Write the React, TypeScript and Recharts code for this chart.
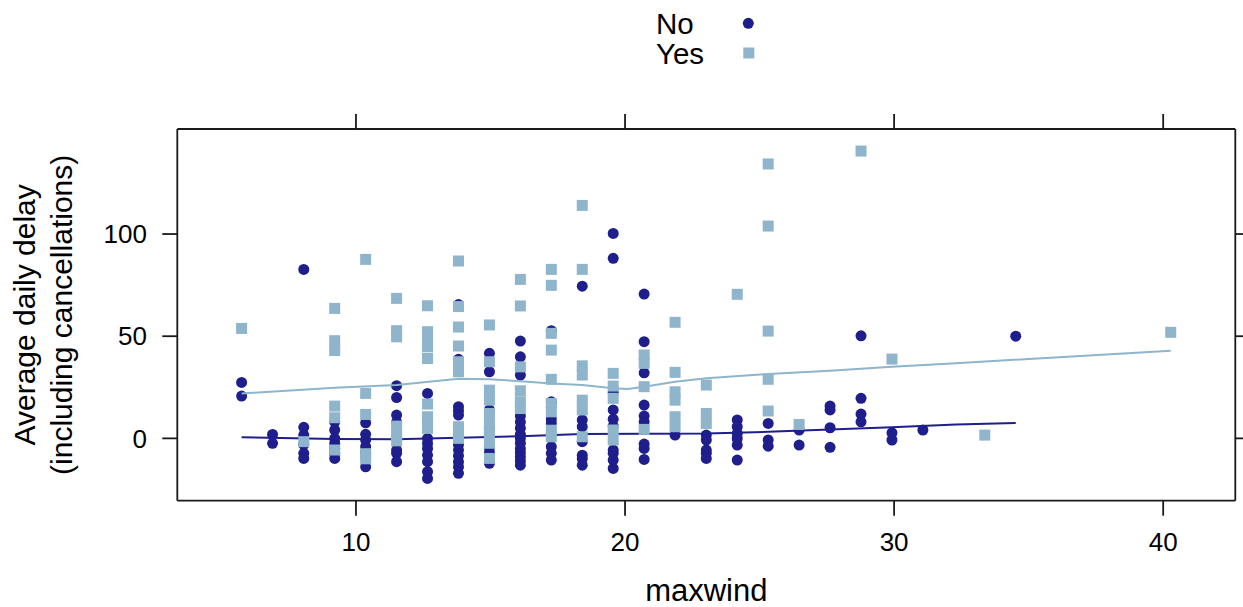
import * as React from 'react';
import { ComposedChart, Scatter, XAxis, YAxis, Label, Legend } from 'recharts';

// wind speed levels (mph) at which days were observed
const windLevels = [
  5.75, 6.9, 8.06, 9.21, 10.36, 11.51, 12.66, 13.81, 14.96, 16.11, 17.26, 18.41, 19.56,
  20.71, 21.86, 23.02, 24.17, 25.32, 26.47, 27.62, 28.77, 29.92, 31.07, 33.37, 34.52, 40.28,
];

// average daily delay, one row per wind level, for days without / with rain
const noDelays: number[][] = [
  [27.4, 20.7],
  [1.9, -2.4],
  [82.7, 5.4, 1.6, -3, -7.3, -9.8],
  [8.1, 4.1, 0, -2.5, -4.9, -7.5, -9.8],
  [7.6, 2, -0.8, -4.1, -7, -13.9],
  [25.8, 20, 11.4, 8, -5.7, -7.3, -11.4],
  [22, 9, 0, -2.5, -4.9, -8.2, -11.4, -16.3, -19.6],
  [65.5, 38.7, 15.5, 13.5, 11.4, -3, -5.7, -8.5, -11.5, -14, -17.1],
  [41.6, 32.6, 13.9, 5, -4.5, -7, -12.2],
  [47.6, 39.9, 31, 11, 8, 5, 2, 0, -2.4, -5, -7, -9, -11, -13.1],
  [52.7, 17.9, 9.5, 7.5, -4.1, -7.3, -10.6],
  [74.5, 9, 5.7, -1.6, -8.2, -10, -13.1],
  [100.3, 88.1, 22.5, 13.9, 9.4, 6, -5.7, -7.3, -10.6, -14.7],
  [70.6, 47.3, 32.1, 16.3, 10.9, 8.1, -2.8, -4.9, -10.3],
  [1.6],
  [1.6, -0.8, -5.7, -7.3, -9.8],
  [9, 5.7, 2.4, 0, -3.3, -10.6],
  [7.3, -0.8, -3.8],
  [4.1, -3.3],
  [15.8, 13.9, 5.2, -4.4],
  [50.2, 19.6, 11.9, 8.1],
  [2.7, -0.8],
  [4.1],
  [],
  [50],
  [],
];

const yesDelays: number[][] = [
  [53.8],
  [],
  [-1.6],
  [63.6, 47.8, 43, 15.8, 10.1, -5.7],
  [87.6, 22, 11.7, -7.5, -10],
  [68.5, 52.7, 49.7, 6, 1.6, -1.2],
  [64.9, 52.2, 48.5, 44.8, 39.1, 16.8, 10.6, 7.5, 4.9],
  [86.8, 64.5, 54.5, 45.2, 37.5, 32.6, 5.7, 3, 0],
  [55.5, 37.5, 23.6, 18.7, 12.2, 7.3, 2.4, -2.4, -9.8],
  [77.8, 64.8, 35, 23.3, 17.9, 14.6],
  [82.7, 74.9, 51.4, 43.2, 28.9, 17.1, 13, 4, 0.8],
  [114, 82.7, 35.5, 31, 18.7, 13.9, 0.8],
  [31.8, 25.6, 19.6, 4.1, -0.8],
  [40.8, 36.7, 25.3, 4.4],
  [56.8, 32.3, 22.8, 18.7, 10.6, 5.7],
  [26.1, 12.2, 7.3],
  [70.5],
  [134.3, 103.9, 52.5, 28.9, 13.4],
  [6.8],
  [],
  [140.6],
  [38.8],
  [],
  [1.6],
  [],
  [51.9],
];

// loess smooth for each group
const noSmoothX = [5.75, 9.21, 11.51, 13.81, 16.11, 18.41, 20.71, 23.02, 25.32, 27.62, 29.92, 32.3, 34.52];
const noSmoothY = [0.5, -0.3, -0.4, 0.3, 1.1, 2.1, 2.3, 2.4, 3.2, 4.4, 5.4, 6.8, 7.5];
const yesSmoothX = [5.75, 9.21, 11.51, 13.81, 14.96, 16.11, 17.26, 18.41, 19.56, 20.1, 20.71, 21.86, 23.02, 25.32, 27.62, 29.92, 32.3, 40.28];
const yesSmoothY = [22, 24.8, 26.1, 29.2, 28.9, 28, 26.9, 26.1, 24.5, 24.2, 25.3, 27.7, 29.4, 31.5, 33.1, 35, 36.8, 42.9];

const groups = ['No', 'Yes'];
const xTicks = [10, 20, 30, 40];
const yTicks = [0, 50, 100];

const NAVY = '#1E1E8C';
const LIGHT = '#8FB5CC';
const FONT = '"Liberation Sans", Arial, Helvetica, sans-serif';
const AXIS = '#1a1a1a';

const toPoints = (rows: number[][]) =>
  windLevels.flatMap((w, i) => rows[i].map((d) => ({ x: w, y: d })));
const toLine = (xs: number[], ys: number[]) => xs.map((x, i) => ({ x, y: ys[i] }));

const noPoints = toPoints(noDelays);
const yesPoints = toPoints(yesDelays);
const noSmooth = toLine(noSmoothX, noSmoothY);
const yesSmooth = toLine(yesSmoothX, yesSmoothY);

const Dot = (props: any) => <circle cx={props.cx} cy={props.cy} r={5.5} fill={NAVY} />;
const Square = (props: any) => (
  <rect x={props.cx - 5.5} y={props.cy - 5.5} width={11} height={11} fill={LIGHT} />
);
const NoShape = () => <g />;

const renderLegend = () => (
  <svg width={140} height={75} style={{ display: 'block' }}>
    <text x={16} y={33.6} fontSize={29.5} fontFamily={FONT} fill="#000">{groups[0]}</text>
    <circle cx={108.3} cy={23.3} r={5.5} fill={NAVY} />
    <text x={16} y={64} fontSize={29.5} fontFamily={FONT} fill="#000">{groups[1]}</text>
    <rect x={103.3} y={47.5} width={11} height={11} fill={LIGHT} />
  </svg>
);

const xDomain: [number, number] = [3.36, 42.68];
const yDomain: [number, number] = [-30.5, 151.4];
const tickStyle = { fontSize: 26, fontFamily: FONT, fill: '#000' };
const blank = () => '';

export default function App() {
  return (
    <div style={{ position: 'absolute', left: 0, top: 0 }}>
      <ComposedChart width={1243} height={607} margin={{ top: 0, right: 0, bottom: 0, left: 0 }}>
        <XAxis
          dataKey="x"
          type="number"
          domain={xDomain}
          ticks={xTicks}
          interval={0}
          allowDataOverflow
          height={106.3}
          tickSize={15}
          tickMargin={16.5}
          stroke={AXIS}
          strokeWidth={1.8}
          tick={tickStyle}
        >
          <Label
            value="maxwind"
            position="insideBottom"
            offset={6}
            style={{ fontSize: 31, fontFamily: FONT, fill: '#000' }}
          />
        </XAxis>
        <XAxis
          xAxisId="top"
          orientation="top"
          dataKey="x"
          type="number"
          domain={xDomain}
          ticks={xTicks}
          interval={0}
          allowDataOverflow
          height={129}
          tickSize={15}
          stroke={AXIS}
          strokeWidth={1.8}
          tickFormatter={blank}
        />
        <YAxis
          dataKey="y"
          type="number"
          domain={yDomain}
          ticks={yTicks}
          interval={0}
          allowDataOverflow
          width={177.3}
          tickSize={15}
          tickMargin={15.3}
          stroke={AXIS}
          strokeWidth={1.8}
          tick={tickStyle}
        >
          <Label
            value="Average daily delay"
            position="insideLeft"
            offset={24}
            angle={-90}
            style={{ fontSize: 30, fontFamily: FONT, fill: '#000', textAnchor: 'middle' }}
          />
          <Label
            value="(including cancellations)"
            position="insideLeft"
            offset={61}
            angle={-90}
            style={{ fontSize: 30, fontFamily: FONT, fill: '#000', textAnchor: 'middle' }}
          />
        </YAxis>
        <YAxis
          yAxisId="right"
          orientation="right"
          dataKey="y"
          type="number"
          domain={yDomain}
          ticks={yTicks}
          interval={0}
          allowDataOverflow
          width={7.7}
          tickSize={15}
          stroke={AXIS}
          strokeWidth={1.8}
          tickFormatter={blank}
        />
        <Legend
          layout="vertical"
          align="center"
          verticalAlign="middle"
          content={renderLegend}
          wrapperStyle={{ top: 0, left: 640, width: 140, height: 75 }}
        />
        <Scatter name="No" data={noPoints} shape={Dot} isAnimationActive={false} />
        <Scatter
          name="No smooth"
          data={noSmooth}
          shape={NoShape}
          line={{ stroke: NAVY, strokeWidth: 2 }}
          lineType="joint"
          legendType="none"
          isAnimationActive={false}
        />
        <Scatter name="Yes" data={yesPoints} shape={Square} isAnimationActive={false} />
        <Scatter
          name="Yes smooth"
          data={yesSmooth}
          shape={NoShape}
          line={{ stroke: LIGHT, strokeWidth: 2 }}
          lineType="joint"
          legendType="none"
          isAnimationActive={false}
        />
      </ComposedChart>
    </div>
  );
}
